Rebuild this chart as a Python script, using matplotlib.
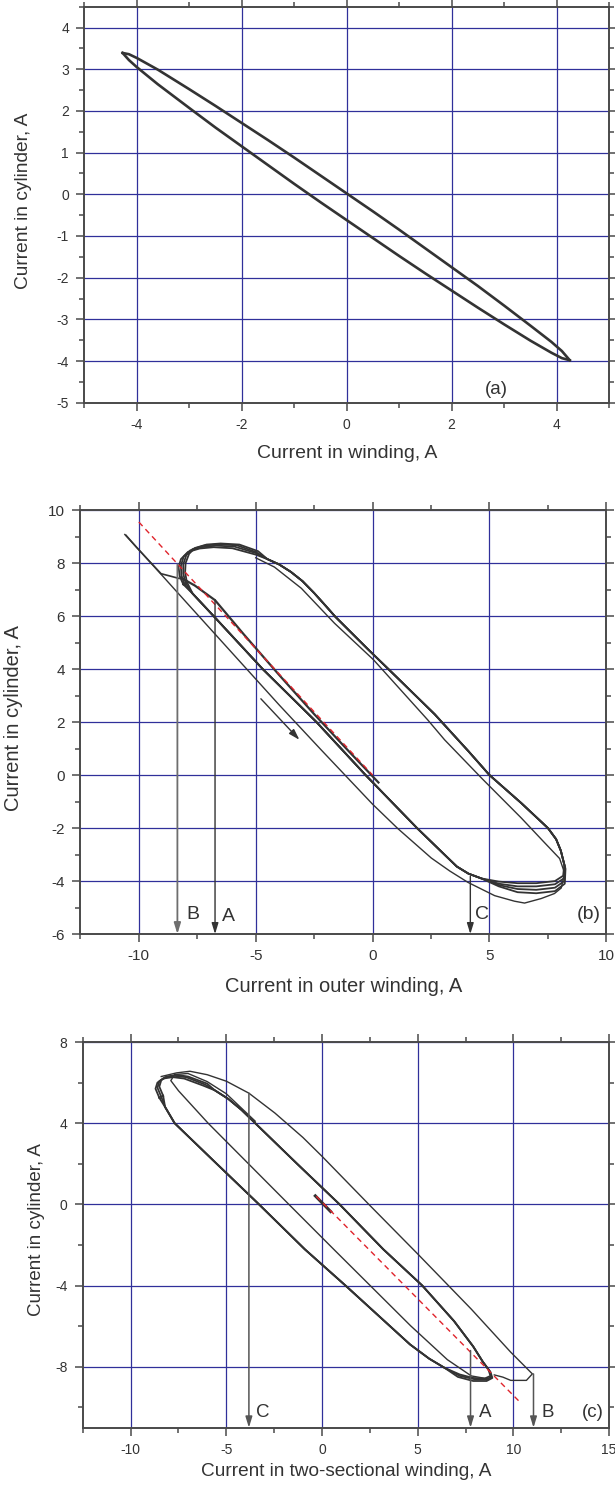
import matplotlib.pyplot as plt
from matplotlib.ticker import MultipleLocator

plt.rcParams['font.family'] = ['Liberation Sans', 'DejaVu Sans']
plt.rcParams['axes.unicode_minus'] = False

INK = '#333333'
GRID = '#30309a'
FRAME = '#4a4a4a'
RED = '#e0242c'

# ---------------- (a) current in winding vs current in cylinder
a_upper = [(-4.27, 3.39), (-4.15, 3.36), (-4.0, 3.27), (-3.6, 2.99), (-3.0, 2.52),
           (-2.5, 2.12), (-2.0, 1.71), (-1.5, 1.30), (-1.0, 0.88), (-0.5, 0.45),
           (0.0, 0.02), (0.5, -0.41), (1.0, -0.85), (1.5, -1.30), (2.0, -1.75),
           (2.5, -2.20), (3.0, -2.67), (3.5, -3.15), (3.9, -3.54), (4.1, -3.76),
           (4.25, -3.98)]
a_lower = [(4.25, -3.98), (4.1, -3.93), (3.9, -3.80), (3.5, -3.51), (3.0, -3.12),
           (2.5, -2.72), (2.0, -2.31), (1.5, -1.90), (1.0, -1.48), (0.5, -1.05),
           (0.0, -0.62), (-0.5, -0.19), (-1.0, 0.25), (-1.5, 0.70), (-2.0, 1.15),
           (-2.5, 1.60), (-3.0, 2.07), (-3.6, 2.64), (-4.0, 3.05), (-4.15, 3.22),
           (-4.27, 3.39)]

# ---------------- (b) outer winding
b_right = [(-4.5, 8.15), (-4.0, 7.95), (-3.5, 7.67), (-3.0, 7.32), (-2.5, 6.87),
           (-2.0, 6.38), (-1.6, 5.98), (-0.2, 4.75), (1.2, 3.55), (2.65, 2.3),
           (4.1, 0.9), (5.0, 0.0), (6.35, -1.05), (7.5, -2.0), (7.85, -2.42),
           (8.05, -2.85)]
b_left = [(4.65, -3.9), (4.1, -3.72), (3.6, -3.45), (1.9, -2.0), (-0.3, 0.0),
          (-2.4, 2.0), (-4.7, 4.0), (-6.8, 6.0), (-7.7, 6.85)]
b_tops = [
    [(-8.1, 7.2), (-8.25, 7.5), (-8.3, 7.85), (-8.2, 8.15), (-7.9, 8.42), (-7.4, 8.55), (-6.8, 8.6), (-6.0, 8.56), (-5.0, 8.32)],
    [(-8.05, 7.2), (-8.18, 7.55), (-8.2, 7.9), (-8.08, 8.25), (-7.8, 8.48), (-7.3, 8.6), (-6.7, 8.66), (-5.9, 8.62), (-5.0, 8.38)],
    [(-8.0, 7.25), (-8.1, 7.6), (-8.1, 7.95), (-7.97, 8.3), (-7.7, 8.53), (-7.2, 8.66), (-6.6, 8.71), (-5.8, 8.67), (-5.0, 8.42)],
    [(-7.95, 7.3), (-8.02, 7.65), (-8.0, 8.0), (-7.85, 8.35), (-7.6, 8.57), (-7.1, 8.7), (-6.5, 8.74), (-5.7, 8.7), (-4.9, 8.45)],
]
b_bottoms = [
    [(8.2, -3.4), (8.15, -3.8), (7.8, -4.0), (7.0, -4.08), (6.2, -4.08), (5.4, -4.02)],
    [(8.22, -3.45), (8.18, -3.9), (7.8, -4.12), (7.0, -4.2), (6.2, -4.2), (5.4, -4.1)],
    [(8.24, -3.5), (8.2, -4.0), (7.8, -4.25), (7.0, -4.33), (6.2, -4.3), (5.4, -4.15)],
    [(8.25, -3.55), (8.22, -4.1), (7.8, -4.38), (7.0, -4.46), (6.2, -4.42), (5.4, -4.2)],
]
b_first = [(-10.6, 9.08), (-9.5, 8.02), (-8.0, 6.55), (-6.0, 4.6), (-4.0, 2.65),
           (-2.2, 0.95), (0.0, -1.1), (1.08, -2.02), (2.51, -3.13), (3.3, -3.62),
           (4.08, -4.05), (5.22, -4.55), (6.07, -4.76), (6.5, -4.83), (7.21, -4.66),
           (7.78, -4.47), (8.07, -4.26), (8.21, -3.69), (8.0, -3.15), (7.3, -2.5),
           (6.36, -1.62), (4.7, -0.15), (3.08, 1.33), (2.36, 2.08), (0.04, 4.35),
           (-1.63, 5.73), (-3.05, 7.05), (-4.2, 7.85), (-5.0, 8.2)]
b_hook = [(-8.28, 7.42), (-8.7, 7.52), (-9.05, 7.6), (-9.6, 8.12), (-10.1, 8.6), (-10.55, 9.05)]
b_start = [(0.25, -0.28), (-1.0, 0.88), (-2.5, 2.3), (-4.0, 3.78), (-5.5, 5.3),
           (-6.74, 6.6), (-7.6, 7.15), (-8.2, 7.45)]
b_red = [(-10.0, 9.55), (0.0, 0.0)]
b_drops = {'B': (-8.35, 7.95), 'A': (-6.74, 6.62), 'C': (4.18, -3.82)}
b_dir_arrow = [(-4.78, 2.88), (-3.13, 1.33)]

# ---------------- (c) two-sectional winding
c_right = [(-5.6, 5.62), (-4.9, 5.2), (-4.2, 4.65), (-3.49, 4.0), (-1.3, 2.0),
           (0.92, 0.0), (3.2, -2.21), (5.24, -4.0), (6.9, -5.75), (7.9, -7.0),
           (8.4, -7.75)]
c_left = [(6.4, -8.05), (5.6, -7.6), (4.6, -6.9), (1.23, -4.0), (-0.9, -2.21),
          (-3.29, 0.0), (-5.5, 2.0), (-7.7, 4.0), (-8.2, 4.8)]
c_tops = [
    [(-8.5, 5.25), (-8.7, 5.7), (-8.6, 6.0), (-8.3, 6.2), (-7.8, 6.27), (-7.2, 6.2), (-6.2, 5.85)],
    [(-8.4, 5.3), (-8.6, 5.75), (-8.5, 6.07), (-8.2, 6.27), (-7.7, 6.33), (-7.1, 6.27), (-6.1, 5.9)],
    [(-8.3, 5.35), (-8.5, 5.8), (-8.4, 6.12), (-8.1, 6.3), (-7.6, 6.38), (-7.0, 6.3), (-6.0, 5.95)],
]
c_bottoms = [
    [(8.75, -8.2), (8.85, -8.5), (8.6, -8.62), (8.0, -8.62), (7.2, -8.45)],
    [(8.8, -8.25), (8.9, -8.55), (8.6, -8.7), (7.9, -8.7), (7.1, -8.5)],
    [(8.7, -8.15), (8.8, -8.45), (8.5, -8.58), (7.9, -8.55), (7.2, -8.38)],
]
c_mid = [(8.7, -8.6), (7.8, -8.45), (6.55, -7.65), (4.63, -5.98), (0.61, -2.21),
         (-1.73, 0.0), (-5.95, 4.0), (-7.5, 5.6), (-7.9, 6.1), (-7.7, 6.4),
         (-7.0, 6.45), (-6.0, 6.05), (-5.0, 5.45), (-3.49, 4.1)]
c_outer = [(-8.4, 6.3), (-7.6, 6.48), (-6.9, 6.56), (-6.0, 6.39), (-5.0, 6.07),
           (-3.82, 5.48), (-2.46, 4.5), (-1.0, 3.3), (0.0, 2.37), (2.5, -0.05),
           (5.01, -2.45), (7.8, -5.16), (9.86, -7.28), (10.99, -8.35), (10.68, -8.67),
           (9.86, -8.67), (9.45, -8.51), (9.0, -8.4)]
c_start = [(-0.35, 0.42), (0.45, -0.35)]
c_red = [(-0.3, 0.4), (10.3, -9.7)]
c_drops = {'C': (-3.82, 5.48), 'A': (7.76, -7.2), 'B': (11.05, -8.35)}


def xy(points):
    xs, ys = zip(*points)
    return list(xs), list(ys)


def style_axes(ax, xlim, ylim, xmaj, xmin, ymaj, ymin, tick_size):
    ax.set_xlim(*xlim)
    ax.set_ylim(*ylim)
    ax.xaxis.set_major_locator(MultipleLocator(xmaj))
    ax.xaxis.set_minor_locator(MultipleLocator(xmin))
    ax.yaxis.set_major_locator(MultipleLocator(ymaj))
    ax.yaxis.set_minor_locator(MultipleLocator(ymin))
    ax.grid(True, which='major', color=GRID, linewidth=0.9)
    ax.set_axisbelow(True)
    for s in ax.spines.values():
        s.set_color(FRAME)
        s.set_linewidth(1.4)
    ax.tick_params(which='both', direction='out', top=True, right=True,
                   color=FRAME, labelcolor=INK, labelsize=tick_size, width=1.1)
    ax.tick_params(which='major', length=6, pad=5)
    ax.tick_params(which='minor', length=3.5)


def drop_arrow(ax, x, y_top, y_bottom, color=INK, lw=1.0):
    ax.annotate('', xy=(x, y_bottom), xytext=(x, y_top), annotation_clip=False,
                arrowprops=dict(arrowstyle='-|>,head_length=0.65,head_width=0.2',
                                color=color, lw=lw, shrinkA=0, shrinkB=0,
                                mutation_scale=10))


fig = plt.figure(figsize=(6.15, 14.85), dpi=100)

# ---- (a)
ax = fig.add_axes([0.1371, 0.7288, 0.8533, 0.2667])
style_axes(ax, (-5, 5), (-5, 4.5), 2, 1, 1, 0.5, 10)
for pts in (a_upper, a_lower):
    ax.plot(*xy(pts), color=INK, lw=1.9, solid_joinstyle='round')
ax.text(2.86, -4.68, '(a)', fontsize=13.5, color=INK, ha='center', va='center')
ax.set_xlabel('Current in winding, A', fontsize=14, color=INK, va='center')
ax.set_ylabel('Current in cylinder, A', fontsize=13.8, color=INK, va='center')
ax.xaxis.set_label_coords(0.5, -0.127)
ax.yaxis.set_label_coords(-0.116, 0.51)

# ---- (b)
ax = fig.add_axes([0.1307, 0.3710, 0.8553, 0.2855])
style_axes(ax, (-12.5, 10), (-6, 10), 5, 2.5, 2, 1, 11)
for top, bottom in zip(b_tops, b_bottoms):
    loop = top + b_right + bottom + b_left + [top[0]]
    ax.plot(*xy(loop), color=INK, lw=1.3, solid_joinstyle='round')
ax.plot(*xy(b_first), color=INK, lw=1.0)
ax.plot(*xy(b_hook), color=INK, lw=1.2)
ax.plot(*xy(b_start), color=INK, lw=1.6)
ax.plot(*xy(b_red), color=RED, lw=1.0, ls=(0, (4, 3)))
for name, (x0, y0) in b_drops.items():
    shade = '#6e6e6e' if name == 'B' else INK
    drop_arrow(ax, x0, y0, -6, color=shade, lw=1.3 if name == 'B' else 1.0)
(x0, y0), (x1, y1) = b_dir_arrow
ax.annotate('', xy=(x1, y1), xytext=(x0, y0),
            arrowprops=dict(arrowstyle='-|>,head_length=0.65,head_width=0.2',
                            color=INK, lw=1.0, shrinkA=0, shrinkB=0, mutation_scale=10))
ax.text(-7.7, -5.28, 'B', fontsize=14, color=INK, ha='center', va='center')
ax.text(-6.18, -5.33, 'A', fontsize=14, color=INK, ha='center', va='center')
ax.text(4.66, -5.28, 'C', fontsize=14, color=INK, ha='center', va='center')
ax.text(9.77, -5.28, '(b)', fontsize=14, color=INK, ha='right', va='center')
ax.set_xlabel('Current in outer winding, A', fontsize=14.5, color=INK, va='center')
ax.set_ylabel('Current in cylinder, A', fontsize=14.5, color=INK, va='center')
ax.xaxis.set_label_coords(0.5, -0.124)
ax.yaxis.set_label_coords(-0.127, 0.51)

# ---- (c)
ax = fig.add_axes([0.1346, 0.0386, 0.8558, 0.2597])
style_axes(ax, (-12.5, 15), (-11, 8), 5, 2.5, 4, 2, 10)
for top, bottom in zip(c_tops, c_bottoms):
    loop = top + c_right + bottom + c_left + [top[0]]
    ax.plot(*xy(loop), color=INK, lw=1.3, solid_joinstyle='round')
ax.plot(*xy(c_mid), color=INK, lw=1.0)
ax.plot(*xy(c_outer), color=INK, lw=1.0)
ax.plot(*xy(c_start), color=INK, lw=2.2)
ax.plot(*xy(c_red), color=RED, lw=1.0, ls=(0, (4, 3)))
for name, (x0, y0) in c_drops.items():
    drop_arrow(ax, x0, y0, -11, color='#555555', lw=1.1)
ax.text(-3.12, -10.23, 'C', fontsize=13.5, color=INK, ha='center', va='center')
ax.text(8.52, -10.23, 'A', fontsize=13.5, color=INK, ha='center', va='center')
ax.text(11.8, -10.23, 'B', fontsize=13.5, color=INK, ha='center', va='center')
ax.text(14.7, -10.23, '(c)', fontsize=13.5, color=INK, ha='right', va='center')
ax.set_xlabel('Current in two-sectional winding, A', fontsize=13.7, color=INK, va='center')
ax.set_ylabel('Current in cylinder, A', fontsize=13.5, color=INK, va='center')
ax.xaxis.set_label_coords(0.5, -0.114)
ax.yaxis.set_label_coords(-0.087, 0.513)

fig.savefig('out.png', dpi=100, facecolor='white')
